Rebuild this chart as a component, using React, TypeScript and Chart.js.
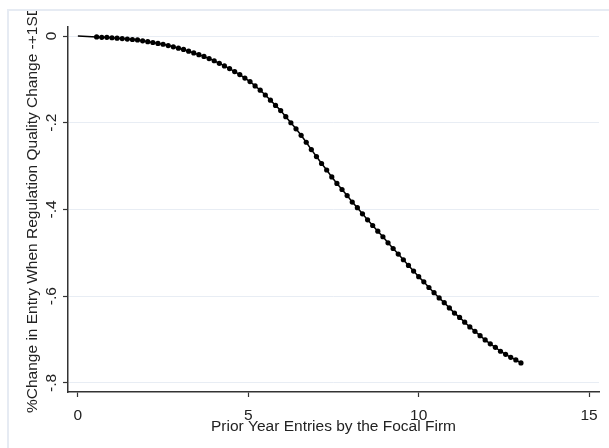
import React, { useEffect, useRef } from "react";
import { Chart, registerables } from "chart.js";

Chart.register(...registerables);

// Prior year entries (x) and % change in entry (y)
const xValues = [
  0, 0.55, 0.7, 0.85, 1.0, 1.15, 1.3, 1.45, 1.6, 1.75, 1.9, 2.05, 2.2, 2.35, 2.5, 2.65, 2.8, 2.95,
  3.1, 3.25, 3.4, 3.55, 3.7, 3.85, 4.0, 4.15, 4.3, 4.45, 4.6, 4.75, 4.9, 5.05, 5.2, 5.35,
  5.5, 5.65, 5.8, 5.95, 6.1, 6.25, 6.4, 6.55, 6.7, 6.85, 7.0, 7.15, 7.3, 7.45, 7.6, 7.75,
  7.9, 8.05, 8.2, 8.35, 8.5, 8.65, 8.8, 8.95, 9.1, 9.25, 9.4, 9.55, 9.7, 9.85, 10.0, 10.15,
  10.3, 10.45, 10.6, 10.75, 10.9, 11.05, 11.2, 11.35, 11.5, 11.65, 11.8, 11.95, 12.1, 12.25,
  12.4, 12.55, 12.7, 12.85, 13.0,
];
const yValues = [
  0, -0.002, -0.003, -0.003, -0.004, -0.005, -0.006, -0.007, -0.008, -0.009, -0.011, -0.013,
  -0.015, -0.017, -0.019, -0.022, -0.025, -0.028, -0.031, -0.035, -0.039, -0.043, -0.047,
  -0.052, -0.057, -0.063, -0.069, -0.075, -0.082, -0.089, -0.097, -0.105, -0.115, -0.125,
  -0.136, -0.148, -0.16, -0.172, -0.186, -0.2, -0.214, -0.229, -0.245, -0.262, -0.278,
  -0.294, -0.309, -0.325, -0.34, -0.354, -0.368, -0.383, -0.396, -0.41, -0.424, -0.437,
  -0.45, -0.463, -0.477, -0.49, -0.503, -0.516, -0.529, -0.542, -0.555, -0.567, -0.58,
  -0.592, -0.604, -0.615, -0.627, -0.639, -0.649, -0.66, -0.671, -0.681, -0.691, -0.701,
  -0.71, -0.718, -0.727, -0.734, -0.741, -0.747, -0.754,
];
const xTicks = [0, 5, 10, 15];
const yTicks = [0, -0.2, -0.4, -0.6, -0.8];
const yTickLabels = ["0", "-.2", "-.4", "-.6", "-.8"];
const xTitle = "Prior Year Entries by the Focal Firm";
const yTitle = "%Change in Entry When Regulation Quality Change -+1SD";

const FONT = "'Liberation Sans', Arial, sans-serif";
const FS = 15.5;

const customDraw = {
  id: "customDraw",
  beforeDraw(chart: any) {
    const { ctx } = chart;
    ctx.save();
    ctx.fillStyle = "#ffffff";
    ctx.fillRect(0, 0, chart.width, chart.height);
    ctx.strokeStyle = "#e6ebf3";
    ctx.lineWidth = 2;
    ctx.beginPath();
    ctx.moveTo(8, chart.height + 2);
    ctx.lineTo(8, 10);
    ctx.lineTo(chart.width + 2, 10);
    ctx.stroke();
    ctx.restore();
  },
  afterDraw(chart: any) {
    const { ctx } = chart;
    const yScale = chart.scales.y;
    ctx.save();
    ctx.fillStyle = "#222222";
    ctx.font = `${FS}px ${FONT}`;
    yTicks.forEach((v, i) => {
      const py = yScale.getPixelForValue(v);
      ctx.save();
      ctx.translate(56, py);
      ctx.rotate(-Math.PI / 2);
      ctx.textAlign = "center";
      ctx.textBaseline = "alphabetic";
      ctx.fillText(yTickLabels[i], 0, 0);
      ctx.restore();
    });
    // y title, clipped by the outer frame
    ctx.beginPath();
    ctx.rect(0, 11, chart.width, chart.height);
    ctx.clip();
    ctx.translate(37, 413);
    ctx.rotate(-Math.PI / 2);
    ctx.textAlign = "left";
    ctx.textBaseline = "alphabetic";
    ctx.fillText(yTitle, 0, 0);
    ctx.restore();
  },
};

export default function App() {
  const ref = useRef<HTMLCanvasElement>(null);
  useEffect(() => {
    if (!ref.current) return;
    const data = xValues.map((x, i) => ({ x, y: yValues[i] }));
    const chart = new Chart(ref.current, {
      type: "scatter",
      data: {
        datasets: [
          {
            data,
            showLine: true,
            borderColor: "#000000",
            borderWidth: 1.5,
            backgroundColor: "#000000",
            pointBackgroundColor: "#000000",
            pointBorderColor: "#000000",
            pointBorderWidth: 0,
            pointRadius: xValues.map((_, i) => (i === 0 ? 0 : 2.6)),
            pointHoverRadius: 0,
          },
        ],
      },
      options: {
        responsive: false,
        animation: false,
        events: [],
        layout: { padding: { top: 27, right: 10, left: 0, bottom: 0 } },
        plugins: { legend: { display: false }, tooltip: { enabled: false } },
        scales: {
          x: {
            type: "linear",
            min: -0.29,
            max: 15.29,
            afterBuildTicks: (s: any) => {
              s.ticks = xTicks.map((v) => ({ value: v }));
            },
            afterFit: (s: any) => {
              s.height = 56;
            },
            border: { display: true, color: "#333333", width: 1.5 },
            grid: {
              drawOnChartArea: false,
              drawTicks: true,
              tickLength: 5,
              tickColor: "#333333",
              tickWidth: 1.2,
            },
            ticks: {
              color: "#222222",
              font: { family: FONT, size: FS },
              padding: 9,
              maxRotation: 0,
              callback: (v: any) => String(v),
            },
            title: {
              display: true,
              text: xTitle,
              color: "#222222",
              font: { family: FONT, size: FS },
              padding: { top: 0, bottom: 12 },
            },
          },
          y: {
            type: "linear",
            min: -0.821,
            max: 0.0208,
            afterBuildTicks: (s: any) => {
              s.ticks = yTicks.map((v) => ({ value: v }));
            },
            afterFit: (s: any) => {
              s.width = 68;
            },
            border: { display: true, color: "#333333", width: 1.5 },
            grid: {
              color: "#e8edf4",
              lineWidth: 1,
              drawTicks: true,
              tickLength: 5,
              tickColor: "#333333",
              tickWidth: 1.2,
            },
            ticks: { display: false },
          },
        },
      },
      plugins: [customDraw],
    });
    return () => chart.destroy();
  }, []);
  return (
    <div style={{ position: "fixed", left: 0, top: 0, width: 609, height: 448, background: "#fff" }}>
      <canvas ref={ref} width={609} height={448} style={{ display: "block", width: 609, height: 448 }} />
    </div>
  );
}
